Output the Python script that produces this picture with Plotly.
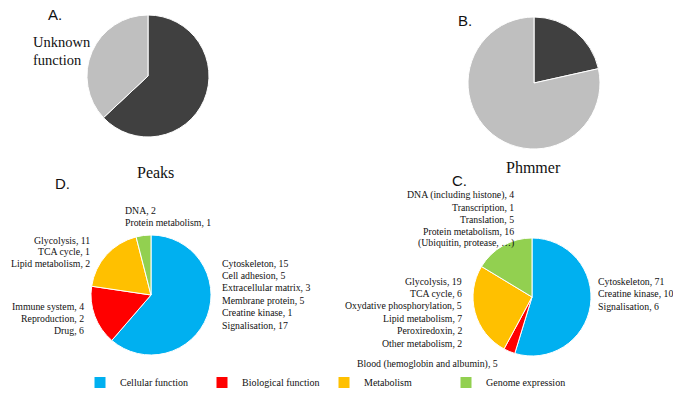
import plotly.graph_objects as go

W, H = 673, 397

categories = ["Cellular function", "Biological function", "Metabolism", "Genome expression"]
cat_colors = ["#00B0F0", "#FF0000", "#FFC000", "#92D050"]

# Panel D (Peaks, known function)
d_cell_names = ["Cytoskeleton", "Cell adhesion", "Extracellular matrix", "Membrane protein", "Creatine kinase", "Signalisation"]
d_cell_counts = [15, 5, 3, 5, 1, 17]
d_bio_names = ["Immune system", "Reproduction", "Drug"]
d_bio_counts = [4, 2, 6]
d_met_names = ["Glycolysis", "TCA cycle", "Lipid metabolism"]
d_met_counts = [11, 1, 2]
d_gen_names = ["DNA", "Protein metabolism"]
d_gen_counts = [2, 1]

# Panel C (Phmmer, known function)
c_cell_names = ["Cytoskeleton", "Creatine kinase", "Signalisation"]
c_cell_counts = [71, 10, 6]
c_bio_names = ["Blood (hemoglobin and albumin)"]
c_bio_counts = [5]
c_met_names = ["Glycolysis", "TCA cycle", "Oxydative phosphorylation", "Lipid metabolism", "Peroxiredoxin", "Other metabolism"]
c_met_counts = [19, 6, 5, 7, 2, 2]
c_gen_names = ["DNA (including histone)", "Transcription", "Translation", "Protein metabolism"]
c_gen_counts = [4, 1, 5, 16]
c_gen_note = "(Ubiquitin, protease, \u2026)"

# Panels A and B (known vs unknown function)
ab_labels = ["Known function", "Unknown function"]
ab_colors = ["#404040", "#BFBFBF"]
peaks_values = [75, 44]
phmmer_values = [159, 580]

d_values = [sum(d_cell_counts), sum(d_bio_counts), sum(d_met_counts), sum(d_gen_counts)]
c_values = [sum(c_cell_counts), sum(c_bio_counts), sum(c_met_counts), sum(c_gen_counts)]


def dom(cx, cy, r):
    return dict(x=[(cx - r) / W, (cx + r) / W], y=[1 - (cy + r) / H, 1 - (cy - r) / H])


def px(x):
    return x / W


def py(y):
    return 1 - y / H


fig = go.Figure()
common = dict(sort=False, direction="clockwise", rotation=0, textinfo="none",
              hoverinfo="label+value+percent")
fig.add_trace(go.Pie(labels=ab_labels, values=peaks_values, domain=dom(148, 76, 61),
                     marker=dict(colors=ab_colors, line=dict(color="white", width=1)),
                     showlegend=False, name="Peaks", **common))
fig.add_trace(go.Pie(labels=ab_labels, values=phmmer_values, domain=dom(534, 83, 66),
                     marker=dict(colors=ab_colors, line=dict(color="white", width=1)),
                     showlegend=False, name="Phmmer", **common))
fig.add_trace(go.Pie(labels=categories, values=d_values, domain=dom(151, 295, 60),
                     marker=dict(colors=cat_colors, line=dict(color="white", width=1)),
                     showlegend=True, name="D", **common))
fig.add_trace(go.Pie(labels=categories, values=c_values, domain=dom(532, 297, 59),
                     marker=dict(colors=cat_colors, line=dict(color="white", width=1)),
                     showlegend=False, name="C", **common))

SERIF = "Liberation Serif, Times New Roman, serif"
SANS = "Liberation Sans, Arial, sans-serif"
annotations = []


def add_text(x, y, text, size=9.8, align="left", font=SERIF):
    annotations.append(dict(x=px(x), y=py(y), xref="paper", yref="paper", text=text,
                            showarrow=False, xanchor=align, yanchor="middle",
                            font=dict(family=font, size=size, color="#111111")))


def add_block(x, y0, names, counts, align, extra=None, step=12.3):
    lines = [f"{n}, {c}" for n, c in zip(names, counts)]
    if extra:
        lines.append(extra)
    for i, t in enumerate(lines):
        add_text(x, y0 + i * step, t, align=align)


# Panel letters and titles
add_text(55, 15, "A.", size=15, align="center", font=SANS)
add_text(465, 20, "B.", size=15, align="center", font=SANS)
add_text(62, 183, "D.", size=15, align="center", font=SANS)
add_text(459, 180, "C.", size=15, align="center", font=SANS)
add_text(31, 42, "Unknown", size=14.5)
add_text(31, 60, "function", size=14.5)
add_text(155, 172, "Peaks", size=16, align="center")
add_text(533, 167, "Phmmer", size=16, align="center")

# Panel D labels
add_block(123, 210, d_gen_names, d_gen_counts, "left", step=12.5)
add_block(92, 240, d_met_names, d_met_counts, "right", step=11.7)
add_block(220, 263.3, d_cell_names, d_cell_counts, "left", step=12.34)
add_block(86, 306.7, d_bio_names, d_bio_counts, "right", step=11.7)

# Panel C labels
add_block(516, 195, c_gen_names, c_gen_counts, "right", extra=c_gen_note, step=12.08)
add_block(464, 281, c_met_names, c_met_counts, "right", step=12.46)
add_block(596, 281, c_cell_names, c_cell_counts, "left", step=12.5)
add_block(500, 364.3, c_bio_names, c_bio_counts, "right")

fig.update_layout(
    width=W, height=H,
    margin=dict(l=0, r=0, t=0, b=0),
    paper_bgcolor="white", plot_bgcolor="white",
    annotations=annotations,
    legend=dict(orientation="h", x=px(80), y=0, xanchor="left", yanchor="bottom",
                font=dict(family=SERIF, size=10, color="#111111"),
                entrywidth=77, entrywidthmode="pixels", traceorder="normal"),
)

fig.write_html("out.html", config={"displayModeBar": False},
               post_script="document.body.style.margin='0';")
